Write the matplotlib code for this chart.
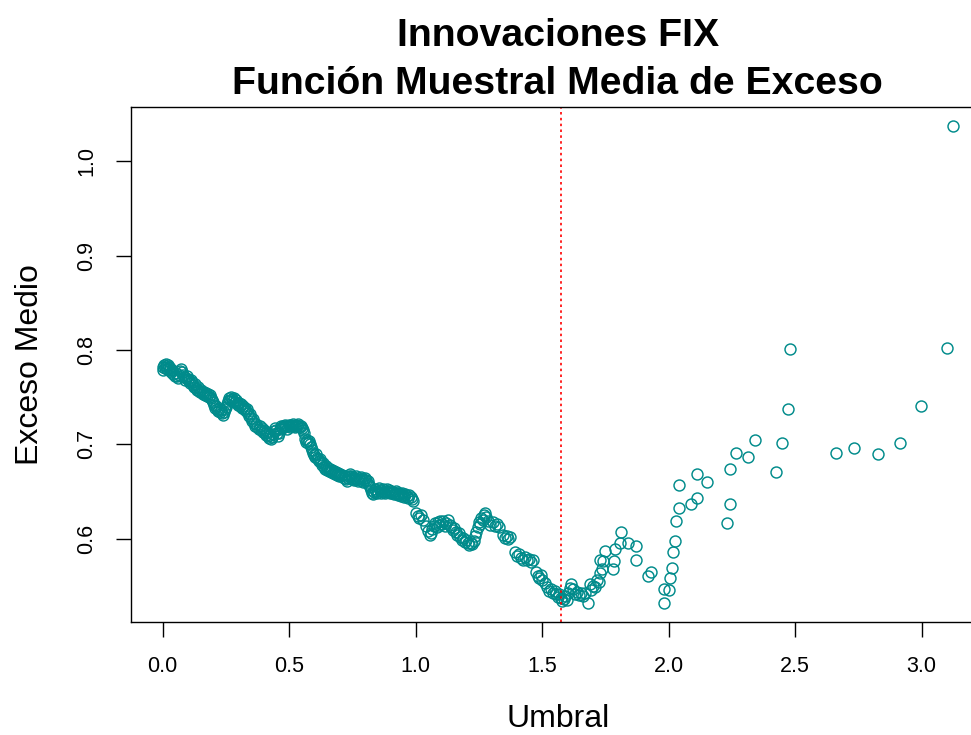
import matplotlib
matplotlib.use("Agg")
import matplotlib.pyplot as plt
from matplotlib.ticker import FormatStrFormatter

plt.rcParams['font.family'] = ['Liberation Sans', 'DejaVu Sans']

# umbrales (x) y exceso medio (y), ordenados por umbral
umbral = [
    0.000, 0.003, 0.006, 0.009, 0.012, 0.015, 0.018, 0.021, 0.024, 0.028,
    0.031, 0.035, 0.039, 0.043, 0.047, 0.051, 0.055, 0.059, 0.063, 0.067,
    0.071, 0.075, 0.079, 0.083, 0.087, 0.091, 0.095, 0.099,
    0.103, 0.107, 0.111, 0.115, 0.119, 0.123, 0.127, 0.131, 0.135, 0.139,
    0.143, 0.147, 0.151, 0.155, 0.159, 0.163, 0.167, 0.171, 0.175, 0.179,
    0.183, 0.187, 0.191, 0.195, 0.199,
    0.203, 0.207, 0.211, 0.215, 0.219, 0.223, 0.227, 0.231, 0.235, 0.239,
    0.243, 0.247, 0.251, 0.255, 0.259, 0.263, 0.267, 0.271, 0.275, 0.279,
    0.283, 0.287, 0.291, 0.295, 0.299,
    0.303, 0.307, 0.311, 0.315, 0.319, 0.323, 0.327, 0.331, 0.335, 0.339,
    0.343, 0.347, 0.351, 0.355, 0.359, 0.363, 0.367, 0.371, 0.375, 0.379,
    0.383, 0.387, 0.391, 0.395, 0.399,
    0.403, 0.407, 0.411, 0.415, 0.419, 0.423, 0.427, 0.431, 0.435, 0.439,
    0.443, 0.447, 0.451, 0.455, 0.459, 0.463, 0.467, 0.471, 0.475, 0.479,
    0.483, 0.487, 0.491, 0.495, 0.499,
    0.503, 0.507, 0.511, 0.515, 0.519, 0.523, 0.527, 0.531, 0.535, 0.539,
    0.543, 0.547, 0.551, 0.555, 0.559, 0.563, 0.567, 0.571, 0.575, 0.579,
    0.583, 0.587, 0.591, 0.595, 0.599,
    0.603, 0.607, 0.611, 0.615, 0.619, 0.623, 0.627, 0.631, 0.635, 0.639,
    0.643, 0.647, 0.651, 0.655, 0.659, 0.663, 0.667, 0.671, 0.675, 0.679,
    0.683, 0.687, 0.691, 0.695, 0.699,
    0.703, 0.707, 0.711, 0.715, 0.719, 0.723, 0.727, 0.731, 0.735, 0.739,
    0.743, 0.747, 0.751, 0.755, 0.759, 0.763, 0.767, 0.771, 0.775, 0.779,
    0.783, 0.787, 0.791, 0.795, 0.799,
    0.803, 0.807, 0.811, 0.815, 0.819, 0.823, 0.827, 0.831, 0.835, 0.839,
    0.843, 0.847, 0.851, 0.855, 0.859, 0.863, 0.867, 0.871, 0.875, 0.879,
    0.883, 0.887, 0.891, 0.895, 0.899,
    0.903, 0.907, 0.911, 0.915, 0.919, 0.923, 0.927, 0.931, 0.935, 0.939,
    0.943, 0.947, 0.951, 0.955, 0.960, 0.965, 0.970, 0.975, 0.980, 0.985,
    0.990,
    1.000, 1.008, 1.015, 1.022, 1.030, 1.040, 1.048, 1.055, 1.060, 1.066,
    1.072, 1.078, 1.083, 1.088, 1.093, 1.098,
    1.104, 1.110, 1.116, 1.122, 1.128, 1.134, 1.140, 1.146, 1.152, 1.158,
    1.164, 1.170, 1.176, 1.182, 1.188, 1.194, 1.200,
    1.206, 1.212, 1.218, 1.224, 1.230, 1.235, 1.240, 1.245, 1.250, 1.255,
    1.260, 1.265, 1.270, 1.275, 1.280, 1.285,
    1.295, 1.305, 1.312, 1.320, 1.328, 1.345, 1.352, 1.360, 1.367, 1.374,
    1.392, 1.400,
    1.408, 1.416, 1.424, 1.432, 1.440, 1.448, 1.456, 1.462, 1.475, 1.482,
    1.488, 1.494, 1.500,
    1.510, 1.520, 1.528, 1.535, 1.542, 1.550, 1.556, 1.562, 1.568, 1.574,
    1.580, 1.586, 1.592, 1.598,
    1.604, 1.610, 1.616, 1.622, 1.630, 1.638, 1.646, 1.655, 1.662, 1.670,
    1.680, 1.690, 1.695, 1.700,
    1.709, 1.715, 1.723, 1.727, 1.729, 1.735, 1.742, 1.749, 1.781, 1.785,
    1.790, 1.806, 1.811, 1.841, 1.872, 1.873, 1.920, 1.932, 1.982, 1.982,
    2.001, 2.006, 2.015, 2.018, 2.027, 2.028, 2.040, 2.041, 2.088, 2.111,
    2.114, 2.153, 2.230, 2.243, 2.243, 2.266, 2.313, 2.342, 2.424, 2.447,
    2.471, 2.481, 2.661, 2.733, 2.827, 2.915, 2.999, 3.100, 3.124,
]

exceso_medio = [
    0.779, 0.782, 0.784, 0.781, 0.785, 0.783, 0.780, 0.784, 0.782, 0.779,
    0.781, 0.777, 0.779, 0.775, 0.773, 0.776, 0.772, 0.770, 0.774, 0.778,
    0.780, 0.777, 0.774, 0.771, 0.768, 0.770, 0.772, 0.769,
    0.767, 0.765, 0.768, 0.766, 0.763, 0.761, 0.764, 0.760, 0.758, 0.761,
    0.757, 0.755, 0.758, 0.756, 0.753, 0.755, 0.752, 0.754, 0.751, 0.753,
    0.750, 0.752, 0.749, 0.747, 0.745,
    0.742, 0.739, 0.741, 0.737, 0.735, 0.738, 0.734, 0.736, 0.733, 0.731,
    0.734, 0.737, 0.740, 0.743, 0.746, 0.749, 0.747, 0.750, 0.748, 0.746,
    0.749, 0.745, 0.747, 0.744, 0.742,
    0.744, 0.741, 0.743, 0.739, 0.741, 0.737, 0.739, 0.735, 0.737, 0.733,
    0.730, 0.732, 0.728, 0.725, 0.727, 0.723, 0.720, 0.722, 0.718, 0.716,
    0.719, 0.715, 0.717, 0.713, 0.715,
    0.712, 0.710, 0.713, 0.709, 0.707, 0.710, 0.706, 0.708, 0.711, 0.714,
    0.717, 0.715, 0.712, 0.709, 0.712, 0.716, 0.719, 0.717, 0.720, 0.718,
    0.721, 0.719, 0.716, 0.719, 0.721,
    0.718, 0.721, 0.719, 0.722, 0.720, 0.718, 0.721, 0.719, 0.722, 0.720,
    0.718, 0.720, 0.717, 0.715, 0.712, 0.706, 0.703, 0.705, 0.702, 0.704,
    0.700, 0.697, 0.694, 0.691, 0.689,
    0.687, 0.690, 0.686, 0.684, 0.682, 0.685, 0.681, 0.678, 0.680, 0.676,
    0.674, 0.677, 0.673, 0.675, 0.672, 0.674, 0.671, 0.673, 0.670, 0.672,
    0.669, 0.671, 0.668, 0.670, 0.667,
    0.669, 0.666, 0.668, 0.664, 0.667, 0.663, 0.661, 0.664, 0.667, 0.669,
    0.666, 0.663, 0.665, 0.662, 0.664, 0.666, 0.663, 0.661, 0.664, 0.662,
    0.665, 0.663, 0.660, 0.662, 0.664,
    0.662, 0.659, 0.661, 0.657, 0.655, 0.652, 0.649, 0.647, 0.650, 0.653,
    0.651, 0.648, 0.650, 0.654, 0.652, 0.649, 0.651, 0.653, 0.650, 0.648,
    0.651, 0.653, 0.650, 0.652, 0.649,
    0.651, 0.648, 0.650, 0.647, 0.649, 0.651, 0.648, 0.646, 0.649, 0.647,
    0.645, 0.648, 0.646, 0.644, 0.647, 0.645, 0.643, 0.646, 0.644, 0.642,
    0.640,
    0.627, 0.624, 0.622, 0.625, 0.620, 0.614, 0.608, 0.604, 0.606, 0.610,
    0.614, 0.617, 0.612, 0.618, 0.615, 0.619,
    0.616, 0.619, 0.614, 0.617, 0.620, 0.615, 0.612, 0.609, 0.611, 0.607,
    0.604, 0.606, 0.602, 0.599, 0.601, 0.597, 0.599,
    0.595, 0.593, 0.596, 0.594, 0.598, 0.603, 0.607, 0.612, 0.618, 0.616,
    0.622, 0.620, 0.625, 0.627, 0.623, 0.619,
    0.615, 0.618, 0.614, 0.616, 0.612, 0.604, 0.601, 0.603, 0.600, 0.602,
    0.586, 0.582,
    0.584, 0.580, 0.578, 0.581, 0.577, 0.579, 0.575, 0.577, 0.565, 0.561,
    0.558, 0.562, 0.556,
    0.553, 0.549, 0.545, 0.547, 0.543, 0.545, 0.541, 0.538, 0.541, 0.537,
    0.534, 0.536, 0.539, 0.535,
    0.543, 0.548, 0.552, 0.547, 0.541, 0.544, 0.540, 0.543, 0.539, 0.542,
    0.532, 0.552, 0.546, 0.550,
    0.549, 0.556, 0.554, 0.564, 0.578, 0.568, 0.576, 0.587, 0.568, 0.576,
    0.589, 0.596, 0.607, 0.596, 0.592, 0.578, 0.561, 0.565, 0.547, 0.532,
    0.546, 0.558, 0.569, 0.586, 0.598, 0.619, 0.633, 0.657, 0.637, 0.643,
    0.669, 0.660, 0.617, 0.637, 0.674, 0.691, 0.687, 0.705, 0.671, 0.702,
    0.738, 0.801, 0.691, 0.696, 0.690, 0.701, 0.741, 0.8025, 1.037,
]

umbral_elegido = 1.575

W, H = 971, 735
fig = plt.figure(figsize=(W / 100, H / 100), dpi=100)
ax = fig.add_axes([131 / W, 113 / H, 853.6 / W, 514.7 / H])

ax.plot(umbral, exceso_medio, linestyle='none', marker='o', markersize=7.9,
        markerfacecolor='none', markeredgecolor='#008B8B', markeredgewidth=1.05)
ax.axvline(umbral_elegido, color='red', linewidth=1.2, linestyle=(0, (1.5, 2)))
ax.margins(0.04)

ax.set_xticks([0.0, 0.5, 1.0, 1.5, 2.0, 2.5, 3.0])
ax.set_yticks([0.6, 0.7, 0.8, 0.9, 1.0])
ax.xaxis.set_major_formatter(FormatStrFormatter('%.1f'))
ax.yaxis.set_major_formatter(FormatStrFormatter('%.1f'))
ax.tick_params(length=10.8, width=1.0, labelsize=15.5, pad=13.5)
for lab in ax.get_yticklabels():
    lab.set_rotation(90)
    lab.set_va('center')
for s in ax.spines.values():
    s.set_linewidth(1.0)

cx = (131 + 853.6 / 2) / W
fig.text(cx, 1 - 46 / H, 'Innovaciones FIX', ha='center', va='baseline',
         fontsize=28.3, fontweight='bold')
fig.text(cx, 1 - 94 / H, 'Función Muestral Media de Exceso', ha='center',
         va='baseline', fontsize=28.3, fontweight='bold')
fig.text(cx, 1 - 727 / H, 'Umbral', ha='center', va='baseline', fontsize=23)
fig.text(30 / W, 1 - 365 / H, 'Exceso Medio', ha='center', va='center',
         rotation=90, fontsize=23)

fig.savefig('out.png', dpi=100)
